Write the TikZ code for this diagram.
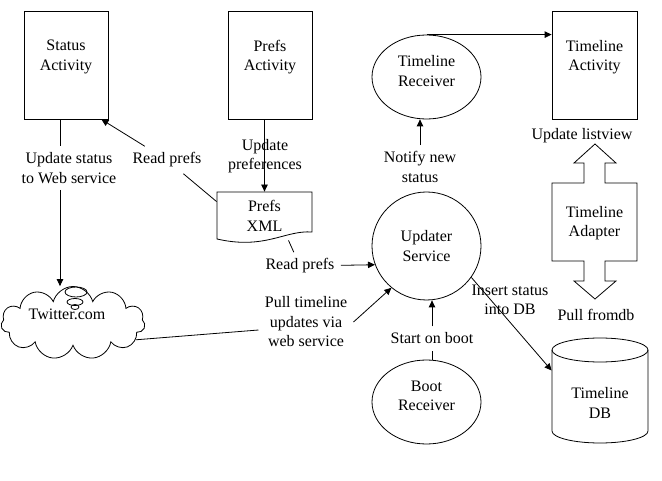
\documentclass[tikz,border=0pt]{standalone}
\usepackage{fontspec}
\setmainfont{Liberation Serif}
\usetikzlibrary{shapes.geometric,shapes.symbols,arrows.meta,positioning}

\begin{document}
\begin{tikzpicture}[x=1pt,y=-1pt,line width=0.8pt,
  font=\fontsize{16}{19.5}\selectfont,
  box/.style={draw, minimum width=84pt, minimum height=108pt},
  oval/.style={draw, ellipse, minimum width=109pt, minimum height=84pt, align=center, inner sep=0pt},
  lbl/.style={align=center, inner sep=6pt},
  arr/.style={-{Triangle[length=7pt,width=6.5pt]}}]
\useasboundingbox (0,0) rectangle (662,481);

% activities
\node[box] (status) at (66,65) {};
\node[align=center] (statustxt) at (66,57) {Status\\Activity};
\node[box] (prefsact) at (270,65) {};
\node[align=center] (prefsacttxt) at (270,57) {Prefs\\Activity};
\node[box, minimum width=85pt] (tlact) at (594.5,65) {};
\node[align=center] (tlacttxt) at (594.5,57) {Timeline\\Activity};

% receivers and service
\node[oval, text depth=12pt] (tlrecv) at (426.5,77) {Timeline\\Receiver};
\node[oval, minimum height=108pt] (updater) at (426.5,246) {Updater\\Service};
\node[oval, text depth=12pt] (bootrecv) at (426.5,402) {Boot\\Receiver};

% prefs file
\node[align=center, minimum width=95pt, minimum height=48pt] (prefsxml) at (264.5,216) {Prefs\\XML};
\draw (217,192) -- (312,192) -- (312,232) .. controls (285,230) and (265,250) .. (217,239) -- cycle;

% twitter cloud
\node[cloud, draw, cloud puffs=11, aspect=2, minimum width=144pt, minimum height=73pt] (twitter) at (73,323) {};
\draw (76,292) ellipse [x radius=11pt, y radius=5pt];
\draw (75,302) ellipse [x radius=8pt, y radius=3.5pt];
\draw (75,307) ellipse [x radius=4pt, y radius=2.5pt];
\node (twittertxt) at (67,314) {Twitter.com};

% adapter and db
\draw (584,183) -- (584,163) -- (574,163) -- (595,144) -- (616,163) -- (605,163) -- (605,183)
  -- (637,183) -- (637,261) -- (605,261) -- (605,281) -- (616,281) -- (595,299) -- (574,281)
  -- (584,281) -- (584,261) -- (552,261) -- (552,183) -- cycle;
\node[align=center] (adapter) at (594.5,223) {Timeline\\Adapter};
\node[minimum width=96pt, minimum height=105pt] (db) at (600,390.5) {};
\draw (600,350) ellipse [x radius=48pt, y radius=12pt];
\draw (552,350) -- (552,431) arc [start angle=180, end angle=360, x radius=48pt, y radius=12pt] -- (648,350);
\node[align=center] (dbtxt) at (600,403) {Timeline\\DB};

% labels
\node[lbl] (updstatus) at (69,168) {Update status\\to Web service};
\node[lbl] (readprefs1) at (167,160) {Read prefs};
\node[lbl] (updprefs) at (265,156) {Update\\preferences};
\node[lbl] (readprefs2) at (300,266) {Read prefs};
\node[lbl] (pull) at (306,322) {Pull timeline\\updates via\\web service};
\node[lbl] (notify) at (420,167) {Notify new\\status};
\node[lbl] (startboot) at (432,338.5) {Start on boot};
\node[lbl] (insert) at (510,300) {Insert status\\into DB};
\node[lbl] (updlist) at (582,136) {Update listview};
\node[lbl] (pulldb) at (596,315) {Pull fromdb};

% connectors
\draw ([xshift=-6pt]status.south) -- ([xshift=-9pt]updstatus.north);
\draw[arr] ([xshift=-9pt]updstatus.south) -- ([xshift=-13pt]twitter.north);
\draw ([yshift=-10pt]prefsxml.north west) -- (readprefs1);
\draw[arr] (readprefs1) -- ([xshift=-7pt]status.south east);
\draw[arr] (prefsact.south -| prefsxml.north) -- (prefsxml.north);
\draw ([xshift=24pt]prefsxml.south) -- (readprefs2);
\draw[arr] (readprefs2) -- (updater.200);
\draw (twitter.-15) -- ([yshift=-8pt]pull.west);
\draw[arr] (pull.east) -- (updater.230);
\draw (bootrecv.north -| startboot.south) -- (startboot.south);
\draw[arr] (startboot.north) -- (startboot.north |- updater.south);
\draw[arr] (notify.north) -- (notify.north |- tlrecv.south);
\draw[arr] (tlrecv.north) -- (tlrecv.north -| tlact.west);
\draw[arr] (updater.-35) -- ([yshift=20pt]db.west);
\end{tikzpicture}
\end{document}
